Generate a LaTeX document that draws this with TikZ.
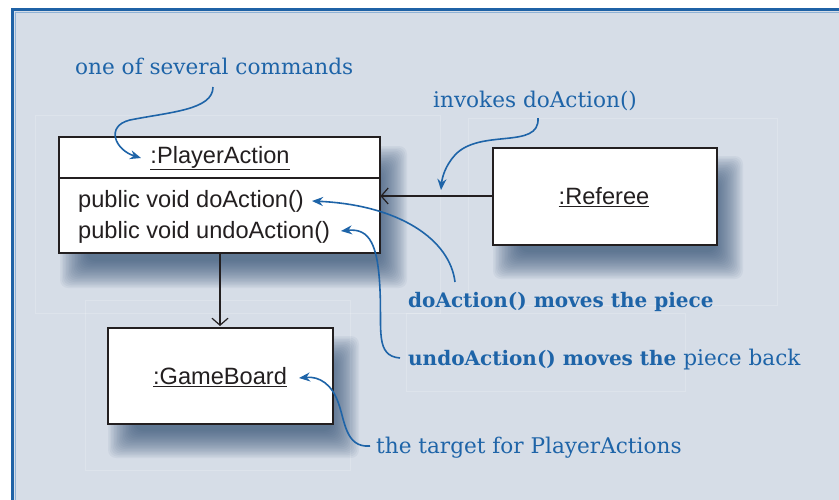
\documentclass[tikz,border=0pt]{standalone}
\usepackage{fontspec}
\setmainfont{DejaVu Serif}
\setsansfont{Liberation Sans}
\usetikzlibrary{arrows.meta}
\definecolor{bgc}{HTML}{D6DDE7}
\definecolor{framec}{HTML}{1F62A6}
\definecolor{framelight}{HTML}{8FB2D6}
\definecolor{annc}{HTML}{1E64A8}
\definecolor{shadowc}{HTML}{2B4A70}
\definecolor{inkc}{HTML}{231F20}
\newcommand\boxshadow[4]{%
  \foreach \r in {-14,-12.5,...,14}{%
    \fill[shadowc,opacity=0.055,rounded corners=8] ({#1+14-\r},{#2+22-\r}) rectangle ({#3+14+\r},{#4+22+\r});}}
\tikzset{
  x=1pt,y=-1pt,
  umlbox/.style={draw=inkc,line width=2.2pt,fill=white,inner sep=0pt},
  umltext/.style={font=\sffamily\fontsize{23.6}{27}\selectfont,text=inkc,inner sep=0pt},
  ann/.style={font=\fontsize{21.6}{25}\selectfont,text=annc,inner sep=0pt},
  annbold/.style={font=\bfseries\fontsize{20}{25}\selectfont,text=annc,inner sep=0pt},
  annarrow/.style={draw=annc,line width=1.6pt,-{Stealth[length=11pt,width=9pt]}},
  conn/.style={draw=inkc,line width=1.4pt,-{Straight Barb[length=7pt,width=16pt,line width=1.2pt]}},
  faint/.style={draw=white,opacity=0.18,line width=1pt}
}
\begin{document}
\begin{tikzpicture}
\useasboundingbox (0,0) rectangle (839,499);
\clip (0,0) rectangle (839,499);
% background frame
\fill[white] (0,0) rectangle (839,499);
\fill[bgc] (11,8) rectangle (850,510);
\draw[framec,line width=3pt] (12.5,510) -- (12.5,9.5) -- (850,9.5);
\draw[framelight,line width=1pt] (15,510) -- (15,12) -- (850,12);
% faint decorative rectangles
\draw[faint] (35,115) rectangle (440,313);
\draw[faint] (468,118) rectangle (777,305);
\draw[faint] (406,313) rectangle (685,391);
\draw[faint] (85,300) rectangle (350,470);
% shadows
\boxshadow{59}{137}{380}{253}
\boxshadow{492}{147}{716}{244}
\boxshadow{107}{327}{332}{423}
% boxes
\draw[umlbox] (59,137) rectangle (380,253);
\node[inner sep=0pt,minimum width=321pt,minimum height=116pt,anchor=north west] (pa) at (59,137) {};
\draw[inkc,line width=1.4pt] (59,178) -- (380,178);
\node[umltext] (patitle) at (220,158) {\underline{:PlayerAction}};
\node[umltext,anchor=base west] (doA) at (78,207) {public void doAction()};
\node[umltext,anchor=base west] (undoA) at (78,238) {public void undoAction()};
\node[umlbox,minimum width=224pt,minimum height=97pt,anchor=north west] (ref) at (492,147) {};
\node[umltext] (reftxt) at (604,197) {\underline{:Referee}};
\node[umlbox,minimum width=225pt,minimum height=96pt,anchor=north west] (gb) at (107,327) {};
\node[umltext] (gbtxt) at (220,377) {\underline{:GameBoard}};
% connectors
\coordinate (refL) at (ref.west |- 0,196);
\coordinate (paR) at (pa.east |- 0,196);
\draw[conn] (refL) -- (paR);
\coordinate (paB) at (220,253);
\coordinate (gbT) at (220,326);
\draw[conn] (paB) -- (gbT);
% annotations
\node[ann,anchor=base west] (a1) at (75,74) {one of several commands};
\node[ann,anchor=base west] (a2) at (433,107) {invokes doAction()};
\node[annbold,anchor=base west] (a3) at (408,307) {doAction() moves the piece};
\node[ann,anchor=base west] (a4) at (408,365) {{\bfseries\fontsize{20}{25}\selectfont undoAction() moves the} piece back};
\node[ann,anchor=base west] (a5) at (376,453) {the target for PlayerActions};
\coordinate (c1s) at (213,87);
\coordinate (c1e) at (141,158);
\draw[annarrow] (c1s) .. controls (213,110) and (170,112) .. (130,120) .. controls (105,126) and (115,150) .. (c1e);
\coordinate (c2s) at (538,118);
\coordinate (c2e) at (441,190);
\draw[annarrow] (c2s) .. controls (540,150) and (480,128) .. (455,155) .. controls (445,166) and (442,178) .. (c2e);
\coordinate (c3s) at (455,282);
\coordinate (c3e) at (312,201);
\draw[annarrow] (c3s) .. controls (450,240) and (400,205) .. (c3e);
\coordinate (c4s) at (400,358);
\coordinate (c4e) at (341,231);
\draw[annarrow] (c4s) .. controls (375,356) and (382,330) .. (380,290) .. controls (378,245) and (370,228) .. (c4e);
\coordinate (c5s) at (370,446);
\coordinate (c5e) at (299,378);
\draw[annarrow] (c5s) .. controls (345,448) and (345,420) .. (338,402) .. controls (332,385) and (320,376) .. (c5e);
\end{tikzpicture}
\end{document}
